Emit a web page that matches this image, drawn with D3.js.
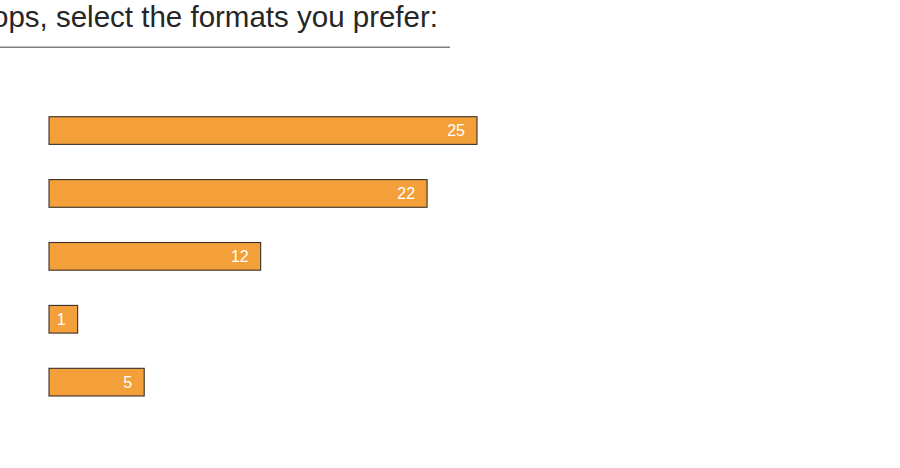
<!DOCTYPE html>
<html>
<head>
<meta charset="utf-8">
<script src="https://cdn.jsdelivr.net/npm/d3@7/dist/d3.min.js"></script>
<style>
  html, body { margin: 0; padding: 0; background: #fff; }
  svg { display: block; }
</style>
</head>
<body>
<svg id="chart" width="900" height="468"></svg>
<script>
// Survey question and answer counts per format
const questionText = "On desktops, select the formats you prefer:";
const formats = ["Format A", "Format B", "Format C", "Format D", "Format E"];
const votes = [25, 22, 12, 1, 5];

const svg = d3.select("#chart");

// Question heading, right-aligned so its start runs off the left edge
svg.append("text")
  .attr("x", 438)
  .attr("y", 27)
  .attr("text-anchor", "end")
  .attr("font-family", "'Liberation Sans', Arial, Helvetica, sans-serif")
  .attr("font-size", 29.5)
  .attr("fill", "#262626")
  .text(questionText);

svg.append("line")
  .attr("x1", 0).attr("x2", 450)
  .attr("y1", 47.3).attr("y2", 47.3)
  .attr("stroke", "#808080")
  .attr("stroke-width", 1.5);

// Scales
const y = d3.scaleBand()
  .domain(formats)
  .range([116.7, 396])
  .paddingInner(0.56)
  .paddingOuter(0);

const x = d3.scaleLinear()
  .domain([0, d3.max(votes)])
  .range([12, 428]);

const left = 49;

const rows = svg.append("g")
  .selectAll("g")
  .data(formats.map((f, i) => ({ format: f, value: votes[i] })))
  .join("g");

rows.append("rect")
  .attr("x", left)
  .attr("y", d => y(d.format))
  .attr("width", d => x(d.value))
  .attr("height", y.bandwidth())
  .attr("fill", "#f4a03a")
  .attr("stroke", "#3a3028")
  .attr("stroke-width", 1.1);

rows.append("text")
  .attr("x", d => left + x(d.value) - 12)
  .attr("y", d => y(d.format) + y.bandwidth() / 2)
  .attr("dy", "0.36em")
  .attr("text-anchor", "end")
  .attr("font-family", "'Liberation Sans', Arial, Helvetica, sans-serif")
  .attr("font-size", 16)
  .attr("fill", "#fff")
  .text(d => d.value);
</script>
</body>
</html>
